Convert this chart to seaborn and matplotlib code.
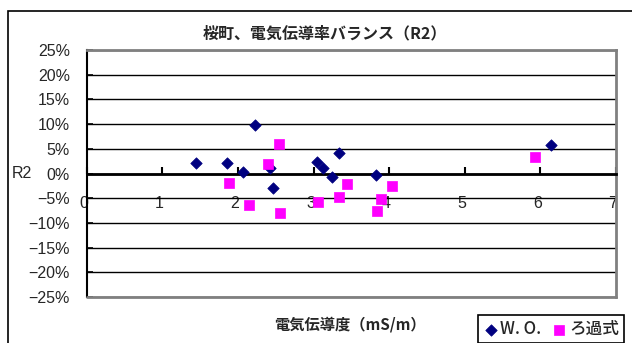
import matplotlib
matplotlib.use("Agg")
import matplotlib.pyplot as plt
import matplotlib.transforms as mtransforms
from matplotlib.patches import Rectangle
from matplotlib.ticker import FuncFormatter, MultipleLocator
import seaborn as sns
import pandas as pd

# Conductivity (mS/m) vs. ion balance R2 (%) for the two sampling methods
wo_x = [1.45, 1.85, 2.07, 2.23, 2.43, 2.46, 3.04, 3.12, 3.25, 3.34, 3.83, 6.14]
wo_y = [2.2, 2.2, 0.3, 9.8, 1.2, -2.9, 2.4, 1.1, -0.8, 4.1, -0.3, 5.7]
filt_x = [1.88, 2.14, 2.40, 2.54, 2.55, 3.06, 3.34, 3.44, 3.84, 3.89, 4.04, 5.93]
filt_y = [-1.9, -6.4, 2.0, 6.0, -7.9, -5.8, -4.7, -2.2, -7.6, -5.1, -2.5, 3.4]
series_names = ["W. O.", "ろ過式"]

title = "桜町、電気伝導率バランス（R2）"
xlabel = "電気伝導度（mS/m）"
ylabel = "R2"

sns.set_theme(style="white")
plt.rcParams["font.family"] = ["Liberation Sans", "Noto Sans CJK JP", "DejaVu Sans"]
jp_font = ["Noto Sans CJK JP", "Liberation Sans", "DejaVu Sans"]

df_wo = pd.DataFrame({"x": wo_x, "y": wo_y})
df_f = pd.DataFrame({"x": filt_x, "y": filt_y})

fig = plt.figure(figsize=(6.32, 3.43), dpi=100)
fig.patch.set_facecolor("white")

# outer chart frame
fig.patches.append(Rectangle((8 / 632, -0.05), 1.2, 1 - 11 / 343 + 0.05,
                             transform=fig.transFigure, fill=False,
                             edgecolor="black", linewidth=1.2, zorder=0))

ax = fig.add_axes([86.7 / 632, 1 - 297 / 343, (616 - 86.7) / 632, (297 - 50) / 343])

sns.scatterplot(data=df_wo, x="x", y="y", ax=ax, marker="D", s=34,
                color="#000080", edgecolor="#000080", linewidth=0.5,
                label=series_names[0], legend=False, zorder=4)
sns.scatterplot(data=df_f, x="x", y="y", ax=ax, marker="s", s=58,
                color="#FF00FF", edgecolor="#FF00FF", linewidth=0.5,
                label=series_names[1], legend=False, zorder=5)

ax.set_xlim(0, 7)
ax.set_ylim(-25, 25)
ax.xaxis.set_major_locator(MultipleLocator(1))
ax.yaxis.set_major_locator(MultipleLocator(5))
ax.yaxis.set_major_formatter(FuncFormatter(
    lambda v, _: f"{int(round(v))}%".replace("-", "−")))

ax.grid(axis="y", color="black", linewidth=1.0)
ax.grid(axis="x", visible=False)
ax.set_axisbelow(True)

ax.spines["bottom"].set_position(("data", 0))
ax.spines["bottom"].set_color("black")
ax.spines["bottom"].set_linewidth(2.0)
ax.spines["left"].set_color("black")
ax.spines["left"].set_linewidth(1.5)
for side in ("top", "right"):
    ax.spines[side].set_color("#808080")
    ax.spines[side].set_linewidth(2.0)
ax.axhline(-25, color="#808080", linewidth=2.0, clip_on=False, zorder=3)

ax.tick_params(axis="x", direction="in", length=5, width=1.5, color="black",
               pad=16, labelsize=11.5, bottom=True)
ax.tick_params(axis="y", direction="in", length=4, width=1.2, color="black",
               pad=12, labelsize=11.5, left=True)
for lab in ax.get_xticklabels() + ax.get_yticklabels():
    lab.set_fontweight("medium")

shift = mtransforms.ScaledTranslation(-3 / 100, 0, fig.dpi_scale_trans)
for lab in ax.get_xticklabels():
    lab.set_transform(lab.get_transform() + shift)

ax.set_xlabel("")
ax.set_ylabel(ylabel, rotation=0, fontsize=11.5, ha="center", va="center")
ax.yaxis.set_label_coords((22 - 86.7) / (616 - 86.7), 0.5)

fig.text(325 / 632, 1 - 33 / 343, title, ha="center", va="center",
         fontsize=11.5, fontweight="bold", family=jp_font)
fig.text(350 / 632, 1 - 325 / 343, xlabel, ha="center", va="center",
         fontsize=11, fontweight="bold", family=jp_font)

handles, labels = ax.get_legend_handles_labels()
leg = fig.legend(handles, labels, loc="upper left",
                 bbox_to_anchor=(478 / 632, 1 - 315 / 343), ncol=2,
                 frameon=True, fancybox=False, edgecolor="black",
                 framealpha=1, handletextpad=0.15, borderaxespad=0,
                 columnspacing=0.6, handlelength=0.9, borderpad=0.3,
                 prop={"family": jp_font, "size": 12, "weight": "medium"})
leg.get_frame().set_linewidth(1.2)

fig.savefig("out.png", dpi=100, facecolor="white")
